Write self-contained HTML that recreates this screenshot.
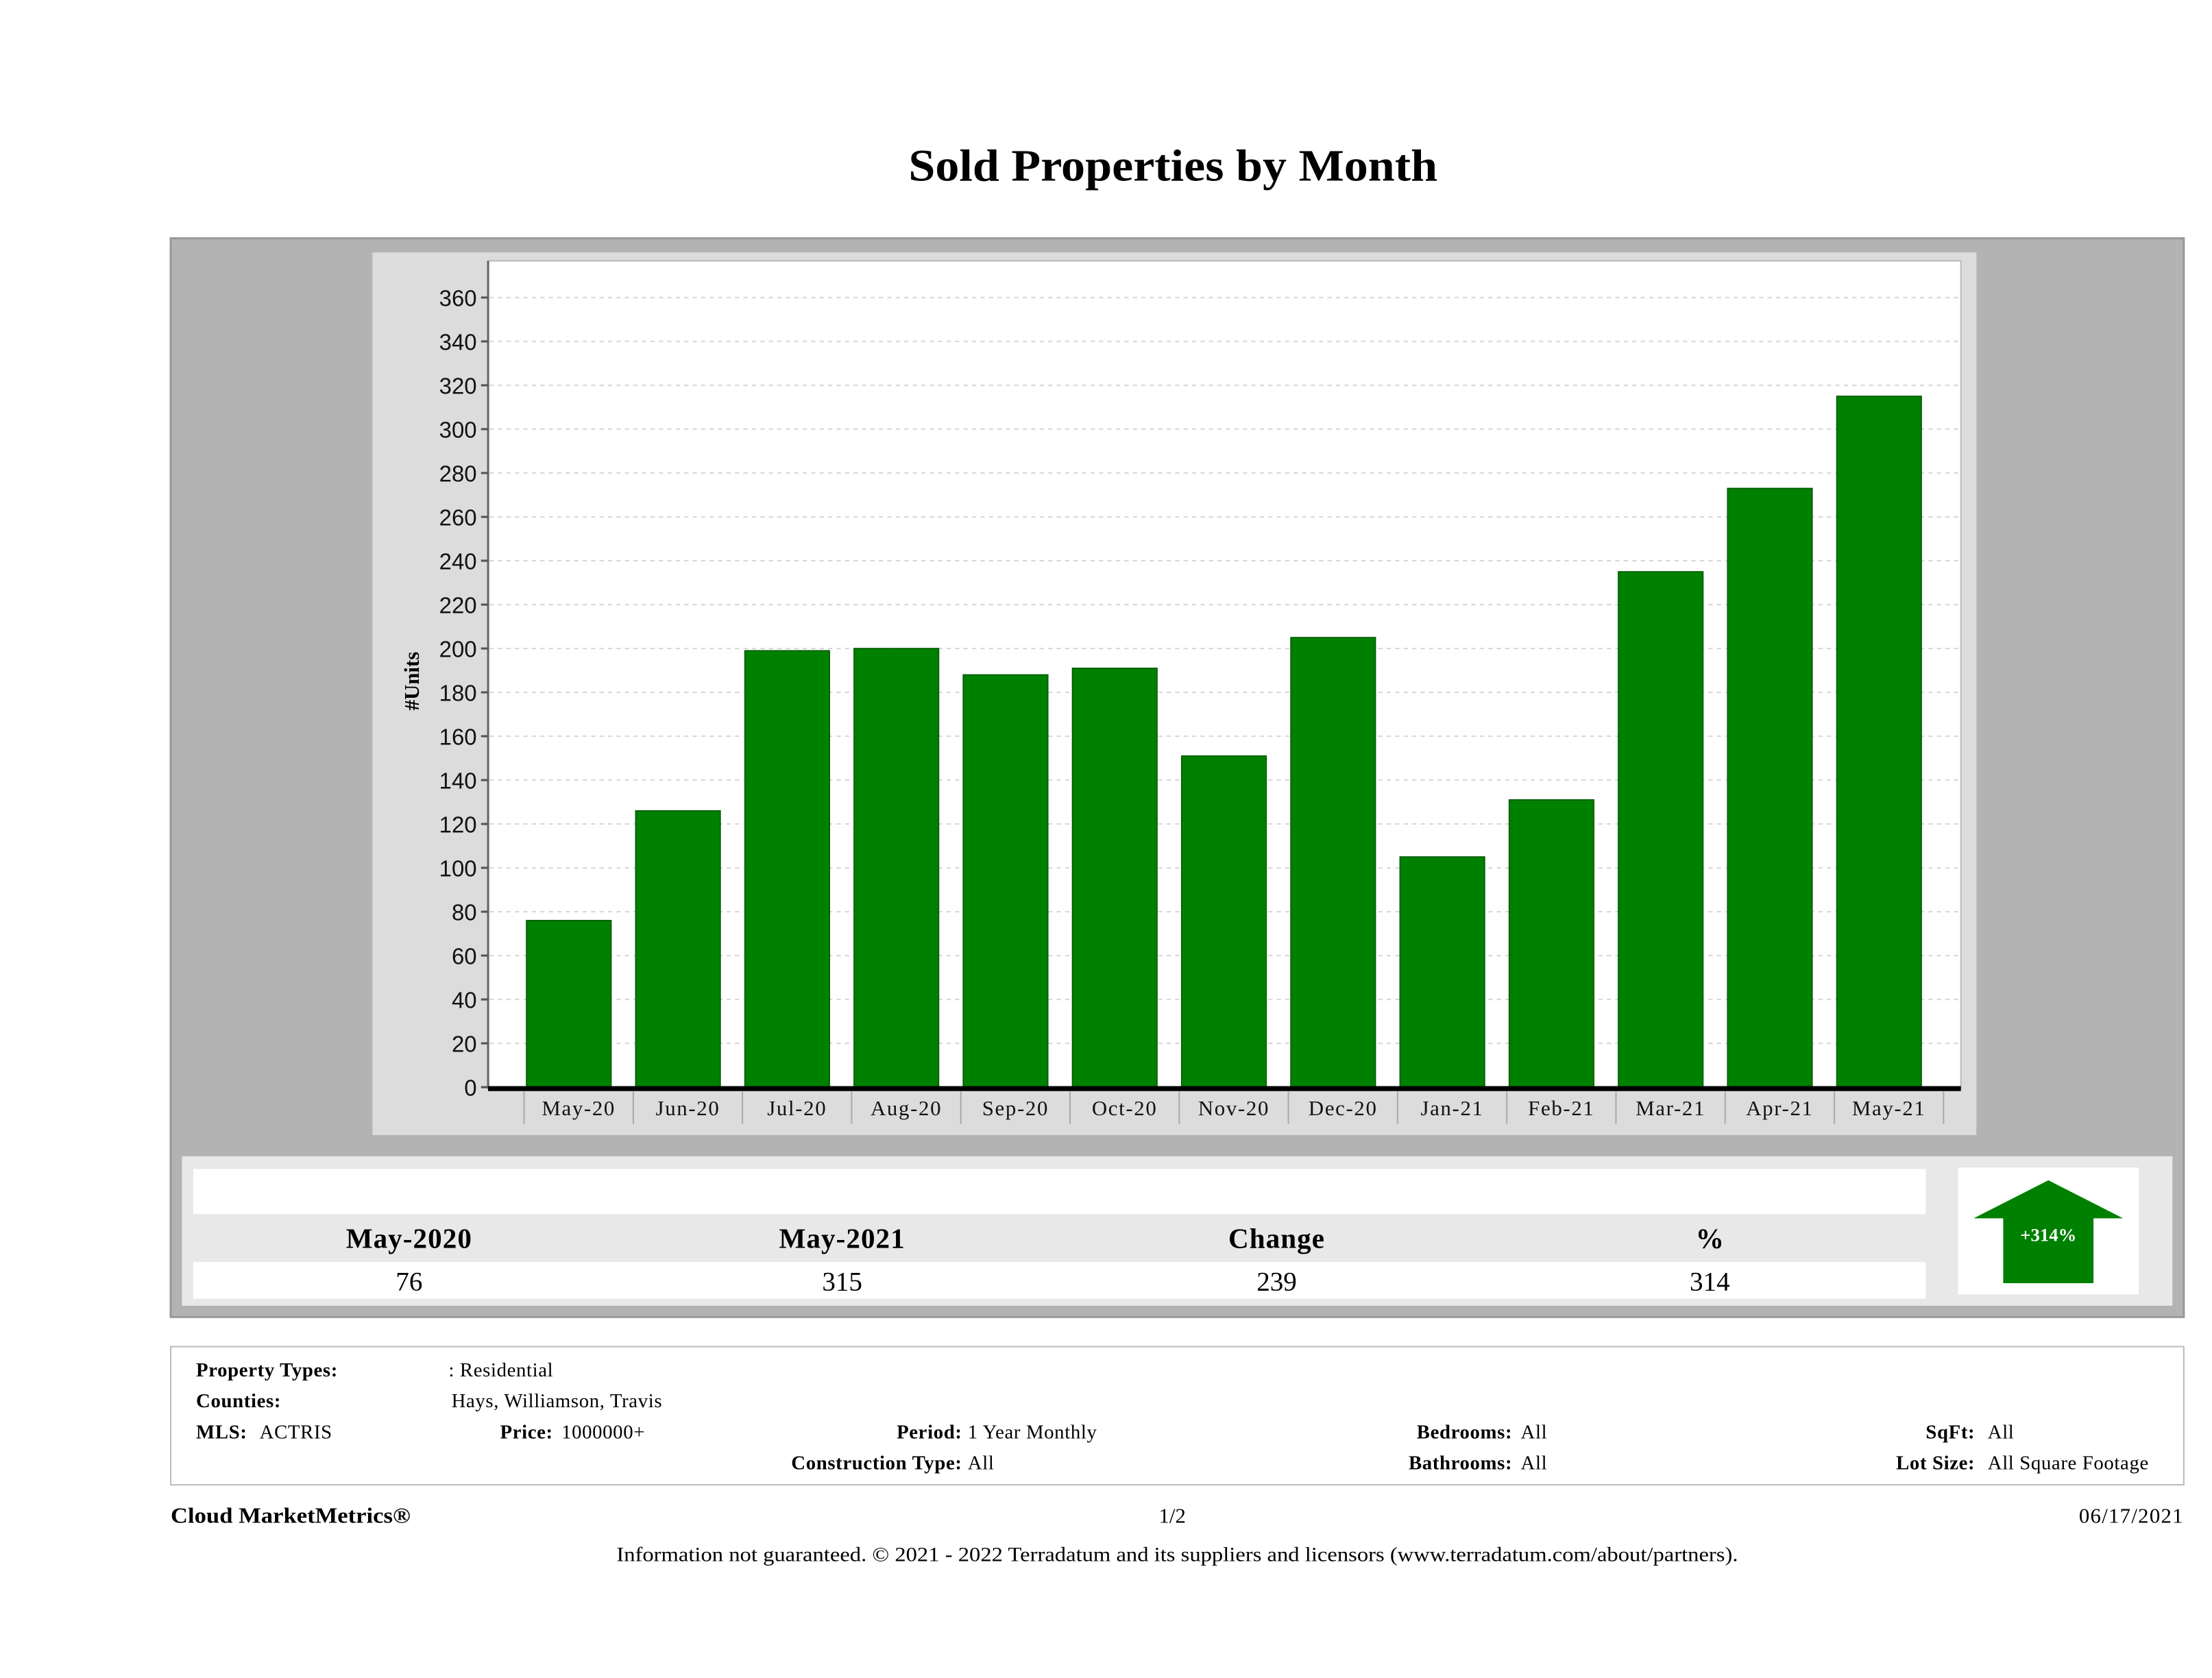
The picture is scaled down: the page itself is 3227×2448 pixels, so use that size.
<!DOCTYPE html>
<html><head><meta charset="utf-8"><style>
html,body{margin:0;padding:0;background:#fff;}
svg{display:block;}
.s{font-family:"Liberation Serif",serif;}
.a{font-family:"Liberation Sans",sans-serif;}
</style></head><body>
<svg id="page" width="3227" height="2448" viewBox="0 0 1568 1190" preserveAspectRatio="none" xmlns="http://www.w3.org/2000/svg">
<rect width="1568" height="1190" fill="#fff"/>
<text class="s" x="644" y="128" font-size="32" font-weight="bold" textLength="375" lengthAdjust="spacingAndGlyphs" fill="#000">Sold Properties by Month</text>
<rect x="121" y="169" width="1427" height="765" fill="#b3b3b3" stroke="#999" stroke-width="1.5"/>
<rect x="264" y="179" width="1137" height="626" fill="#dcdcdc"/>
<rect x="346" y="185" width="1044" height="587" fill="#fff" stroke="#bbb" stroke-width="1"/>
<line x1="346" y1="185" x2="346" y2="772" stroke="#666" stroke-width="1.5"/>
<g id="grid"></g>
<g id="bars"></g>
<g id="xaxis"></g>
<text class="s" transform="translate(297,483) rotate(-90)" font-size="15" font-weight="bold" text-anchor="middle" fill="#000">#Units</text>

<rect x="129" y="820" width="1411" height="106" fill="#e8e8e8"/>
<rect x="137" y="829" width="1228" height="32" fill="#fff"/>
<rect x="137" y="895" width="1228" height="26" fill="#fff"/>
<g class="s" font-size="20" text-anchor="middle" fill="#000">
<text x="290" y="885" font-weight="bold" letter-spacing="0.5">May-2020</text>
<text x="597" y="885" font-weight="bold" letter-spacing="0.5">May-2021</text>
<text x="905" y="885" font-weight="bold" letter-spacing="0.5">Change</text>
<text x="1212" y="885" font-weight="bold">%</text>
<text x="290" y="915" font-size="19">76</text>
<text x="597" y="915" font-size="19">315</text>
<text x="905" y="915" font-size="19">239</text>
<text x="1212" y="915" font-size="19">314</text>
</g>
<rect x="1388" y="828" width="128" height="90" fill="#fff"/>
<polygon points="1452,837 1505,864 1484,864 1484,910 1420,910 1420,864 1399,864" fill="#008000"/>
<text class="s" x="1452" y="880" font-size="13" font-weight="bold" fill="#fff" text-anchor="middle">+314%</text>

<rect x="121" y="955" width="1427" height="98" fill="#fff" stroke="#bbb" stroke-width="1"/>
<g class="s" font-size="14" fill="#000" letter-spacing="0.3">
<text x="139" y="976" font-weight="bold">Property Types:</text><text x="318" y="976">: Residential</text>
<text x="139" y="998" font-weight="bold">Counties:</text><text x="320" y="998">Hays, Williamson, Travis</text>
<text x="139" y="1020" font-weight="bold">MLS:</text><text x="184" y="1020">ACTRIS</text>
<text x="392" y="1020" font-weight="bold" text-anchor="end">Price:</text><text x="398" y="1020">1000000+</text>
<text x="682" y="1020" font-weight="bold" text-anchor="end">Period:</text><text x="686" y="1020">1 Year Monthly</text>
<text x="682" y="1042" font-weight="bold" text-anchor="end">Construction Type:</text><text x="686" y="1042">All</text>
<text x="1072" y="1020" font-weight="bold" text-anchor="end">Bedrooms:</text><text x="1078" y="1020">All</text>
<text x="1072" y="1042" font-weight="bold" text-anchor="end">Bathrooms:</text><text x="1078" y="1042">All</text>
<text x="1400" y="1020" font-weight="bold" text-anchor="end">SqFt:</text><text x="1409" y="1020">All</text>
<text x="1400" y="1042" font-weight="bold" text-anchor="end">Lot Size:</text><text x="1409" y="1042">All Square Footage</text>
</g>
<g class="s" fill="#000">
<text x="121" y="1080" font-size="15.5" font-weight="bold" textLength="170" lengthAdjust="spacingAndGlyphs">Cloud MarketMetrics®</text>
<text x="831" y="1080" font-size="15" text-anchor="middle">1/2</text>
<text x="1548" y="1080" font-size="15" text-anchor="end" letter-spacing="0.6">06/17/2021</text>
<text x="437" y="1107" font-size="14.5" textLength="795" lengthAdjust="spacingAndGlyphs">Information not guaranteed. © 2021 - 2022 Terradatum and its suppliers and licensors (www.terradatum.com/about/partners).</text>
</g>
</svg>
<script>
const categories = ["May-20","Jun-20","Jul-20","Aug-20","Sep-20","Oct-20","Nov-20","Dec-20","Jan-21","Feb-21","Mar-21","Apr-21","May-21"];
const soldUnits = [76,126,199,200,188,191,151,205,105,131,235,273,315];
const yTicks = [0,20,40,60,80,100,120,140,160,180,200,220,240,260,280,300,320,340,360];
const NS = "http://www.w3.org/2000/svg";
const y0 = 771, yTop = 211, yMax = 360;
function yScale(v){ return y0 - (v / yMax) * (y0 - yTop); }
const bandStart = 364.5, bandStep = 77.4, barW = 60;
function xCenter(i){ return bandStart + bandStep * (i + 0.5); }
function mk(tag, attrs, parent){ const e = document.createElementNS(NS, tag); for (const k in attrs) e.setAttribute(k, attrs[k]); parent.appendChild(e); return e; }
const grid = document.getElementById('grid');
yTicks.forEach(t => {
  const y = yScale(t);
  if (t > 0) {
    const gl = mk('line', {x1:347, x2:1389, y1:y, y2:y, stroke:'#d8d8d8', 'stroke-width':1, 'stroke-dasharray':'3,3'}, grid);
    
    
  }
  mk('line', {x1:341, x2:346, y1:y, y2:y, stroke:'#555', 'stroke-width':1.5}, grid);
  const tl = mk('text', {x:338, y:y+6, 'font-size':16, 'text-anchor':'end', fill:'#111', class:'a'}, grid);
  tl.textContent = t;
  
  
});
const bars = document.getElementById('bars');
soldUnits.forEach((v, i) => {
  const y = yScale(v);
  const r = mk('rect', {x:xCenter(i)-barW/2, y:y, width:barW, height:y0-y, fill:'#008000', stroke:'#005a00', 'stroke-width':0.8}, bars);
  
  
});
const xa = document.getElementById('xaxis');
mk('line', {x1:346, x2:1390, y1:772, y2:772, stroke:'#000', 'stroke-width':3.5}, xa);
for (let i = 0; i <= categories.length; i++) {
  const x = bandStart + bandStep * i + 7;
  mk('line', {x1:x, x2:x, y1:774, y2:797, stroke:'#aaa', 'stroke-width':1}, xa);
}
categories.forEach((c, i) => {
  const t = mk('text', {x:xCenter(i)+7, y:791, 'font-size':15, 'text-anchor':'middle', fill:'#111', class:'s', 'letter-spacing':'0.8'}, xa);
  t.textContent = c;
  
  
});
</script>
</body></html>
